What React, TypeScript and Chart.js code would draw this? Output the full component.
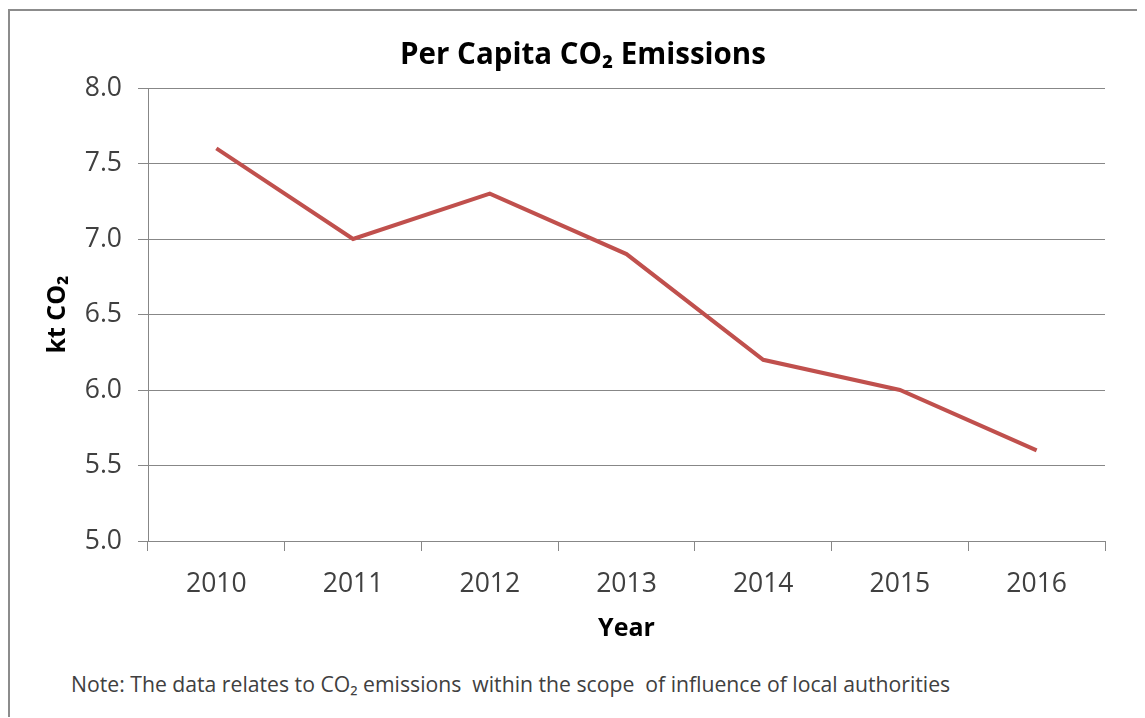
import React, { useEffect, useRef } from "react";
import { Chart, registerables } from "chart.js";

Chart.register(...registerables);

const years = ["2010", "2011", "2012", "2013", "2014", "2015", "2016"];
const emissions = [7.6, 7.0, 7.3, 6.9, 6.2, 6.0, 5.6];
const yMin = 5.0;
const yMax = 8.0;
const yStep = 0.5;
const titleText = "Per Capita CO\u2082 Emissions";
const yTitle = "kt CO\u2082";
const xTitle = "Year";
const noteText = "Note: The data relates to CO\u2082 emissions  within the scope  of influence of local authorities";

const FONT = "'Open Sans', 'Noto Sans', sans-serif";
const GRID = "#878787";

export default function App() {
  const ref = useRef<HTMLCanvasElement | null>(null);

  useEffect(() => {
    if (!ref.current) return;
    const chart = new Chart(ref.current, {
      type: "line",
      data: {
        labels: years,
        datasets: [
          {
            data: emissions,
            borderColor: "#c0504d",
            borderWidth: 4,
            pointRadius: 0,
            tension: 0,
            fill: false,
          },
        ],
      },
      options: {
        responsive: false,
        animation: false,
        layout: { padding: { left: 51, right: 40, top: 0, bottom: 0 } },
        plugins: {
          legend: { display: false },
          tooltip: { enabled: false },
          title: {
            display: true,
            text: titleText,
            color: "#000",
            font: { family: FONT, size: 29.5, weight: "bold", lineHeight: 1.2 },
            padding: { top: 27, bottom: 14.6 },
          },
        },
        scales: {
          x: {
            type: "category",
            offset: true,
            grid: {
              offset: true,
              drawOnChartArea: false,
              drawTicks: true,
              tickLength: 10,
              color: GRID,
              lineWidth: 1,
            },
            border: { display: true, color: GRID, width: 1 },
            ticks: {
              color: "#404040",
              font: { family: FONT, size: 26.5 },
              padding: 18,
              maxRotation: 0,
            },
            title: {
              display: true,
              text: xTitle,
              color: "#000",
              font: { family: FONT, size: 25, weight: "bold", lineHeight: 1.2 },
              padding: { top: 0, bottom: 7 },
            },
            afterFit: (s: any) => {
              s.height = 110;
            },
          },
          y: {
            min: yMin,
            max: yMax,
            grid: {
              color: GRID,
              lineWidth: 1,
              drawTicks: true,
              tickLength: 10,
            },
            border: { display: true, color: GRID, width: 1 },
            ticks: {
              stepSize: yStep,
              color: "#404040",
              font: { family: FONT, size: 26.5 },
              padding: 16,
              callback: (v: any) => Number(v).toFixed(1),
            },
            title: {
              display: true,
              text: yTitle,
              color: "#000",
              font: { family: FONT, size: 25, weight: "bold", lineHeight: 1.2 },
              padding: { top: -18, bottom: 0 },
            },
            afterFit: (s: any) => {
              s.width = 87;
            },
          },
        },
      },
    });
    return () => chart.destroy();
  }, []);

  return (
    <div
      style={{
        position: "relative",
        marginTop: 1,
        borderLeft: "2px solid #8c8c8c",
        borderTop: "2px solid #8c8c8c",
        height: 706,
        overflow: "hidden",
      }}
    >
      <canvas
        ref={ref}
        width={1135}
        height={640}
        style={{ position: "absolute", left: 0, top: 0, width: 1135, height: 640 }}
      />
      <div
        style={{
          position: "absolute",
          left: 61,
          top: 662,
          fontFamily: FONT,
          fontSize: 21.2,
          lineHeight: "21px",
          color: "#404040",
          whiteSpace: "pre",
        }}
      >
        {noteText}
      </div>
    </div>
  );
}
